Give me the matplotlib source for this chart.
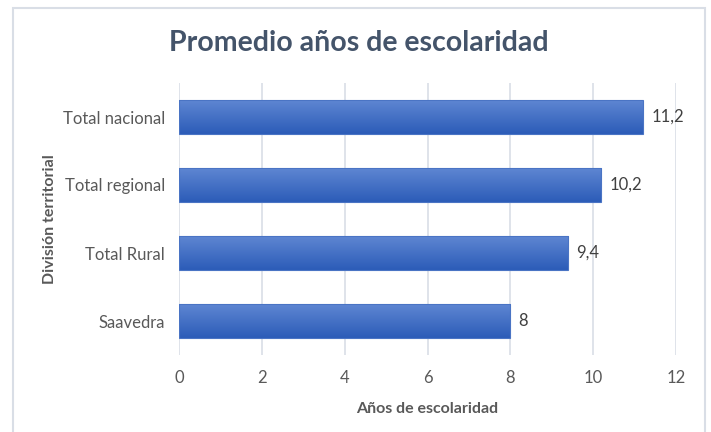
import numpy as np
import matplotlib
matplotlib.use('Agg')
import matplotlib.pyplot as plt
from matplotlib.patches import Rectangle

####################################################################################

categories = ['Saavedra', 'Total Rural', 'Total regional', 'Total nacional']
values = [8, 9.4, 10.2, 11.2]
value_labels = ['8', '9,4', '10,2', '11,2']
x_ticks = [0, 2, 4, 6, 8, 10, 12]

TITLE_RGB = '#44546A'
TEXT_RGB = '#595959'
GRID_RGB = '#D9DEE6'
BAR_TOP_RGB = np.array([0x5E, 0x86, 0xD2]) / 255
BAR_BOTTOM_RGB = np.array([0x2C, 0x5C, 0xB8]) / 255

plt.rcParams['font.family'] = ['Lato', 'DejaVu Sans']

####################################################################################

figure = plt.figure(figsize=(7.11, 4.32), dpi=100)
figure.patches.append(Rectangle((13 / 711, -0.05), 692 / 711, 1 - 8 / 432 + 0.05,
                                transform=figure.transFigure, fill=False,
                                edgecolor='#D9DEE6', linewidth=1.5))

axes = figure.add_axes([179 / 711, 1 - 355 / 432, 497 / 711, 272 / 432])
pos = np.arange(len(categories))
bar_h = 0.5

# gradient fill for each bar
grad = np.linspace(0, 1, 64)[:, None, None]
grad_img = BAR_TOP_RGB * (1 - grad) + BAR_BOTTOM_RGB * grad
for y, v in zip(pos, values):
    axes.imshow(grad_img, extent=(0, v, y - bar_h / 2, y + bar_h / 2),
                aspect='auto', origin='upper', zorder=2, interpolation='bilinear')
    axes.add_patch(Rectangle((0, y - bar_h / 2), v, bar_h, fill=False,
                             edgecolor='#4A74C4', linewidth=0.8, zorder=3))

for y, v, lab in zip(pos, values, value_labels):
    axes.text(v + 0.2, y, lab, va='center', ha='left', fontsize=12, color='#404040')

axes.set_xlim(0, 12)
axes.set_ylim(-0.5, len(categories) - 0.5)
axes.set_xticks(x_ticks)
axes.set_yticks(pos)
axes.set_yticklabels(categories)
axes.tick_params(axis='both', length=0, colors=TEXT_RGB, labelsize=12)
axes.tick_params(axis='x', pad=11)
axes.tick_params(axis='y', pad=10)
axes.grid(axis='x', color=GRID_RGB, linewidth=1.2, zorder=0)
axes.set_axisbelow(True)
for s in axes.spines.values():
    s.set_visible(False)

axes.set_xlabel('Años de escolaridad', fontsize=11.5, fontweight='bold', color=TEXT_RGB, labelpad=11)
axes.set_ylabel('División territorial', fontsize=11.5, fontweight='bold', color=TEXT_RGB, labelpad=4)

figure.text(359 / 711, 1 - 43 / 432, 'Promedio años de escolaridad', ha='center', va='center',
            fontsize=20.5, fontweight='bold', color=TITLE_RGB)

plt.savefig('out.png', dpi=100)
